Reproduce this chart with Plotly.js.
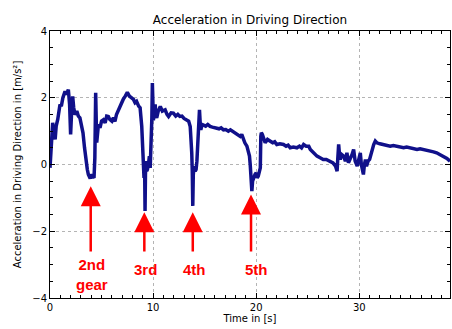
<!DOCTYPE html>
<html>
<head>
<meta charset="utf-8">
<script src="https://cdn.plot.ly/plotly-3.0.1.min.js"></script>
<style>html,body{margin:0;padding:0;background:#fff;}</style>
</head>
<body>
<div id="chart" style="width:452px;height:329px;"></div>
<script>
const timeS = [0, 0.1, 0.2, 0.26, 0.35, 0.5, 0.6, 0.75, 0.97, 1.1, 1.25, 1.46, 1.6, 1.78, 1.9, 2.0, 2.1, 2.2, 2.3, 2.43, 2.6, 2.75, 2.9, 3.05, 3.2, 3.35, 3.5, 3.62, 3.72, 3.82, 3.9, 4.0, 4.15, 4.27, 4.35, 4.43, 4.48, 4.53, 4.6, 4.7, 4.85, 5.0, 5.18, 5.35, 5.5, 5.66, 5.8, 6.0, 6.15, 6.3, 6.45, 6.63, 6.8, 6.96, 7.1, 7.3, 7.5, 7.7, 7.9, 8.1, 8.25, 8.4, 8.6, 8.74, 8.9, 9.0, 9.06, 9.12, 9.18, 9.22, 9.26, 9.3, 9.38, 9.45, 9.55, 9.64, 9.72, 9.8, 9.88, 9.93, 9.98, 10.03, 10.1, 10.2, 10.28, 10.35, 10.5, 10.7, 10.9, 11.17, 11.35, 11.5, 11.75, 11.97, 12.2, 12.4, 12.6, 12.8, 13.0, 13.27, 13.45, 13.6, 13.7, 13.75, 13.8, 13.85, 13.9, 13.98, 14.08, 14.17, 14.25, 14.3, 14.4, 14.5, 14.56, 14.63, 14.75, 14.89, 15.1, 15.3, 15.53, 15.75, 16.0, 16.2, 16.4, 16.6, 16.83, 17.05, 17.3, 17.5, 17.75, 18.0, 18.2, 18.45, 18.6, 18.75, 18.9, 19.1, 19.25, 19.35, 19.42, 19.48, 19.53, 19.58, 19.65, 19.75, 19.88, 20.0, 20.1, 20.2, 20.3, 20.4, 20.45, 20.5, 20.6, 20.75, 20.87, 21.1, 21.36, 21.6, 21.8, 22.0, 22.3, 22.65, 22.9, 23.1, 23.3, 23.6, 23.95, 24.2, 24.4, 24.6, 24.85, 25.1, 25.25, 25.4, 25.65, 25.9, 26.2, 26.5, 26.8, 27.2, 27.45, 27.7, 27.85, 27.9, 28.0, 28.08, 28.16, 28.3, 28.5, 28.65, 28.8, 28.95, 29.1, 29.3, 29.45, 29.6, 29.8, 29.95, 30.1, 30.2, 30.27, 30.4, 30.5, 30.6, 30.7, 30.85, 31.0, 31.2, 31.4, 31.55, 31.7, 32.0, 32.36, 32.7, 33.0, 33.3, 33.67, 34.0, 34.3, 34.6, 35.0, 35.3, 35.6, 35.9, 36.25, 36.6, 36.9, 37.2, 37.5, 37.8, 38.2, 38.5, 38.8];

const accel = [-0.1, 0.4, 0.9, 1.25, 1.0, 0.75, 1.15, 1.35, 1.8, 1.75, 2.0, 2.19, 2.1, 2.24, 1.8, 0.9, 1.6, 2.04, 1.7, 1.49, 1.6, 1.45, 1.4, 1.2, 0.95, 0.5, 0.06, -0.15, -0.3, -0.35, -0.42, -0.3, -0.36, -0.4, 0.2, 2.15, 1.4, 0.66, 1.0, 1.2, 1.1, 1.3, 1.34, 1.25, 1.45, 1.44, 1.35, 1.3, 1.4, 1.29, 1.5, 1.64, 1.75, 1.89, 1.95, 2.05, 2.16, 2.05, 2.0, 1.95, 1.85, 1.89, 1.75, 1.7, 1.14, 0.6, 0.25, -0.4, -0.1, -1.39, -0.3, 0.1, -0.2, -0.15, 0.0, 0.25, -0.1, 0.5, 1.4, 2.44, 1.9, 1.32, 1.6, 1.8, 1.45, 1.4, 1.6, 1.74, 1.6, 1.64, 1.5, 1.44, 1.55, 1.54, 1.45, 1.5, 1.44, 1.45, 1.38, 1.34, 1.3, 1.14, 0.7, 0.35, -0.2, -1.24, -0.3, -0.05, -0.2, -0.15, 0.1, 0.45, 0.9, 1.64, 1.3, 1.04, 1.2, 1.19, 1.15, 1.2, 1.14, 1.12, 1.1, 1.09, 1.07, 1.1, 1.04, 1.05, 1.0, 1.04, 0.98, 0.95, 0.9, 0.84, 0.9, 0.75, 0.65, 0.55, 0.4, 0.25, 0.0, -0.25, -0.5, -0.8, -0.5, -0.4, -0.3, -0.25, -0.4, -0.35, -0.2, -0.1, 0.84, 0.95, 0.9, 0.75, 0.65, 0.75, 0.7, 0.65, 0.68, 0.6, 0.62, 0.6, 0.55, 0.58, 0.5, 0.52, 0.5, 0.55, 0.5, 0.6, 0.55, 0.55, 0.45, 0.4, 0.3, 0.25, 0.2, 0.15, 0.15, 0.1, 0.05, -0.05, -0.2, 0.1, 0.6, 0.3, 0.15, 0.3, 0.25, 0.1, 0.35, 0.05, 0.15, 0.3, 0.45, 0.1, -0.05, 0.2, 0.35, 0.0, -0.15, -0.3, 0.0, 0.15, -0.05, 0.1, 0.15, 0.4, 0.6, 0.7, 0.65, 0.62, 0.6, 0.58, 0.55, 0.57, 0.55, 0.52, 0.5, 0.52, 0.5, 0.47, 0.45, 0.47, 0.45, 0.42, 0.4, 0.38, 0.35, 0.3, 0.25, 0.18, 0.1];

const gearLabels = ["2nd<br>gear", "3rd", "4th", "5th"];
const gearTimes = [3.95, 9.15, 13.85, 19.5];
const arrowTips = [-0.65, -1.43, -1.43, -0.9];
const arrowTail = -2.65;
const labelY = [-3.3, -3.15, -3.15, -3.15];
const labelX = [4.1, 9.3, 14.0, 20.0];

const annotations = [];
for (let i = 0; i < gearTimes.length; i++) {
  annotations.push({
    x: gearTimes[i], y: arrowTips[i], xref: 'x', yref: 'y',
    ax: gearTimes[i], ay: arrowTail, axref: 'x', ayref: 'y',
    text: '', showarrow: true, arrowhead: 2, arrowsize: 1.6,
    arrowwidth: 2.5, arrowcolor: '#ff0000', standoff: 0
  });
  annotations.push({
    x: labelX[i], y: labelY[i], xref: 'x', yref: 'y',
    text: '<b>' + gearLabels[i] + '</b>', showarrow: false,
    font: {family: 'Liberation Sans, Arial, sans-serif', size: 15, color: '#ff0000'},
    align: 'center'
  });
}

const axisCommon = {
  showline: true, linecolor: '#000', linewidth: 1, mirror: 'allticks',
  ticks: 'inside', ticklen: 5, tickcolor: '#000', tickwidth: 1,
  showgrid: true, gridcolor: '#b4b4b4', griddash: 'dot', gridwidth: 1,
  zeroline: false,
  tickfont: {family: 'DejaVu Sans, sans-serif', size: 10, color: '#000'}
};

const layout = {
  width: 452, height: 329,
  margin: {l: 50, r: 2, t: 31, b: 31},
  paper_bgcolor: '#fff', plot_bgcolor: '#fff',
  showlegend: false,
  title: {text: 'Acceleration in Driving Direction', x: 0.553, xanchor: 'center', y: 0.94, yanchor: 'middle',
          font: {family: 'DejaVu Sans, sans-serif', size: 12, color: '#000'}},
  xaxis: Object.assign({}, axisCommon, {
    range: [0, 38.8], dtick: 10, tick0: 0,
    minor: {dtick: 1, ticks: 'inside', ticklen: 3, tickcolor: '#000', showgrid: false},
    title: {text: 'Time in [s]', standoff: 2, font: {family: 'DejaVu Sans, sans-serif', size: 10, color: '#000'}}
  }),
  yaxis: Object.assign({}, axisCommon, {
    range: [-4, 4], dtick: 2, tick0: 0,
    minor: {dtick: 0.5, ticks: 'inside', ticklen: 3, tickcolor: '#000', showgrid: false},
    title: {text: 'Acceleration in Driving Direction in [m/s²]', standoff: 8, font: {family: 'DejaVu Sans, sans-serif', size: 10, color: '#000'}}
  }),
  annotations: annotations
};

const trace = {
  x: timeS, y: accel, type: 'scatter', mode: 'lines',
  line: {color: '#10108a', width: 3.5}
};

Plotly.newPlot('chart', [trace], layout, {displayModeBar: false, staticPlot: true});
</script>
</body>
</html>
